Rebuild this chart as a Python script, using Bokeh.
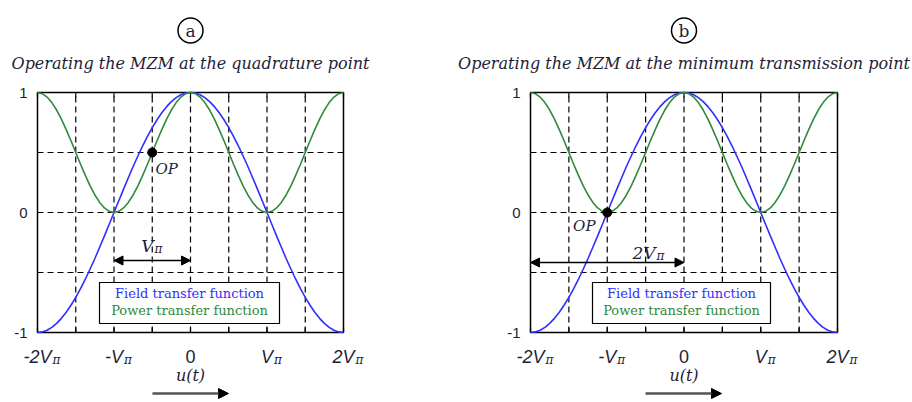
from bokeh.plotting import figure
from bokeh.layouts import row
from bokeh.models import Range1d, Arrow, NormalHead
from bokeh.core.properties import value
from bokeh.embed import file_html
from bokeh.resources import INLINE

# Bias voltage u(t) in units of V_pi
u_vpi = [-2.0, -1.9375, -1.875, -1.8125, -1.75, -1.6875, -1.625, -1.5625,
         -1.5, -1.4375, -1.375, -1.3125, -1.25, -1.1875, -1.125, -1.0625,
         -1.0, -0.9375, -0.875, -0.8125, -0.75, -0.6875, -0.625, -0.5625,
         -0.5, -0.4375, -0.375, -0.3125, -0.25, -0.1875, -0.125, -0.0625,
         0.0, 0.0625, 0.125, 0.1875, 0.25, 0.3125, 0.375, 0.4375,
         0.5, 0.5625, 0.625, 0.6875, 0.75, 0.8125, 0.875, 0.9375,
         1.0, 1.0625, 1.125, 1.1875, 1.25, 1.3125, 1.375, 1.4375,
         1.5, 1.5625, 1.625, 1.6875, 1.75, 1.8125, 1.875, 1.9375, 2.0]

# Field transfer function of the MZM
field_tf = [-1.000, -0.995, -0.981, -0.957, -0.924, -0.882, -0.831, -0.773,
            -0.707, -0.634, -0.556, -0.471, -0.383, -0.290, -0.195, -0.098,
            0.000, 0.098, 0.195, 0.290, 0.383, 0.471, 0.556, 0.634,
            0.707, 0.773, 0.831, 0.882, 0.924, 0.957, 0.981, 0.995,
            1.000, 0.995, 0.981, 0.957, 0.924, 0.882, 0.831, 0.773,
            0.707, 0.634, 0.556, 0.471, 0.383, 0.290, 0.195, 0.098,
            0.000, -0.098, -0.195, -0.290, -0.383, -0.471, -0.556, -0.634,
            -0.707, -0.773, -0.831, -0.882, -0.924, -0.957, -0.981, -0.995,
            -1.000]

# Power transfer function of the MZM
power_tf = [1.000, 0.990, 0.962, 0.916, 0.854, 0.778, 0.691, 0.598,
            0.500, 0.402, 0.309, 0.222, 0.146, 0.084, 0.038, 0.010,
            0.000, 0.010, 0.038, 0.084, 0.146, 0.222, 0.309, 0.402,
            0.500, 0.598, 0.691, 0.778, 0.854, 0.916, 0.962, 0.990,
            1.000, 0.990, 0.962, 0.916, 0.854, 0.778, 0.691, 0.598,
            0.500, 0.402, 0.309, 0.222, 0.146, 0.084, 0.038, 0.010,
            0.000, 0.010, 0.038, 0.084, 0.146, 0.222, 0.309, 0.402,
            0.500, 0.598, 0.691, 0.778, 0.854, 0.916, 0.962, 0.990,
            1.000]

grid_x = [-1.5, -1.0, -0.5, 0.0, 0.5, 1.0, 1.5]
grid_y = [-0.5, 0.0, 0.5]
tick_x = [-2.0, -1.5, -1.0, -0.5, 0.0, 0.5, 1.0, 1.5, 2.0]
x_label_ticks = [-2, -1, 0, 1, 2]
x_label_main = ["-2V", "-V", "0", "V", "2V"]
x_label_sub = ["π", "π", "", "π", "π"]
y_label_ticks = [-1, 0, 1]
y_label_text = ["-1", "0", "1"]

panel_letters = ["a", "b"]
panel_titles = ["Operating the MZM at the quadrature point",
                "Operating the MZM at the minimum transmission point"]
op_u = [-0.5, -1.0]
op_y = [0.5, 0.0]
span_start = [-1.0, -2.0]
span_end = [0.0, 0.0]
span_text = ["V", "2V"]
legend_lines = ["Field transfer function", "Power transfer function"]

FIELD_COLOR = "#2f2fff"
POWER_COLOR = "#2f8a3a"
TEXT_COLOR = "#1e1e38"
SERIF = "DejaVu Serif"
SANS = "Liberation Sans"

PANEL_W, PANEL_H = 456, 402
BOX_TOP, BOX_BOTTOM = 92, 332          # pixel rows of the plot box


def put_text(p, x, y, text, size, font=SERIF, style="normal", color=TEXT_COLOR,
             align="center", baseline="middle", x_offset=0):
    p.text(x=[x], y=[y], text=[text], text_font=value(font),
           text_font_size=f"{size}px", text_font_style=style,
           text_color=color, text_align=align, text_baseline=baseline,
           x_offset=x_offset)


def make_panel(i, box_left, box_right, op_label, span_y_px, span_label,
               legend_px):
    # scales: the plot box spans u = -2..2 and transfer = -1..1
    sx = (box_right - box_left) / 4.0
    sy = (BOX_BOTTOM - BOX_TOP) / 2.0

    def X(px):
        return (px - box_left) / sx - 2.0

    def Y(py):
        return 1.0 - (py - BOX_TOP) / sy

    p = figure(width=PANEL_W, height=PANEL_H,
               x_range=Range1d(X(0), X(PANEL_W)),
               y_range=Range1d(Y(PANEL_H), Y(0)),
               output_backend="svg", toolbar_location=None, min_border=0,
               min_border_left=0, min_border_right=0, min_border_top=0,
               min_border_bottom=0, x_axis_type=None, y_axis_type=None)
    p.outline_line_color = None
    p.xgrid.visible = False
    p.ygrid.visible = False

    # dashed grid inside the box
    dash = dict(line_color="black", line_dash="6 4", line_width=1.2)
    p.segment(x0=grid_x, y0=[-1] * len(grid_x), x1=grid_x,
              y1=[1] * len(grid_x), **dash)
    p.segment(x0=[-2] * len(grid_y), y0=grid_y, x1=[2] * len(grid_y),
              y1=grid_y, **dash)

    # inward tick marks on the top and bottom edges
    tick_len = 5 / sy
    p.segment(x0=tick_x, y0=[-1] * len(tick_x), x1=tick_x,
              y1=[-1 + tick_len] * len(tick_x), line_color="black",
              line_width=1.2)
    p.segment(x0=tick_x, y0=[1] * len(tick_x), x1=tick_x,
              y1=[1 - tick_len] * len(tick_x), line_color="black",
              line_width=1.2)

    # plot box
    p.quad(left=[-2], right=[2], top=[1], bottom=[-1], fill_color=None,
           line_color="black", line_width=1.5)

    # transfer functions and operating point
    p.line(u_vpi, field_tf, line_color=FIELD_COLOR, line_width=1.6)
    p.line(u_vpi, power_tf, line_color=POWER_COLOR, line_width=1.6)
    p.scatter([op_u[i]], [op_y[i]], size=9, color="black")
    put_text(p, X(op_label[0]), Y(op_label[1]), "OP", 15, style="italic",
             align=op_label[2])

    # span arrow and its V_pi label
    head_kw = dict(size=9, fill_color="black", line_color="black")
    ay = Y(span_y_px)
    p.add_layout(Arrow(x_start=span_start[i], y_start=ay,
                       x_end=span_end[i], y_end=ay,
                       line_color="black", line_width=1.5,
                       start=NormalHead(**head_kw), end=NormalHead(**head_kw)))
    lx, ly = X(span_label[0]), Y(span_label[1])
    put_text(p, lx, ly, span_text[i], 17, style="italic", align="right",
             baseline="alphabetic")
    put_text(p, lx, Y(span_label[1] + 3), "π", 12, style="italic",
             align="left", baseline="alphabetic", x_offset=1)

    # legend box with coloured entries
    l, r, t, b = legend_px
    p.quad(left=[X(l)], right=[X(r)], top=[Y(t)], bottom=[Y(b)],
           fill_color="white", line_color="black", line_width=1.2)
    cx = X((l + r) / 2)
    put_text(p, cx, Y(t + 11), legend_lines[0], 13, color=FIELD_COLOR)
    put_text(p, cx, Y(t + 28), legend_lines[1], 13, color=POWER_COLOR)

    # y tick labels
    for t, s in zip(y_label_ticks, y_label_text):
        put_text(p, -2, t, s, 15, font=SANS, align="right", x_offset=-10)

    # x tick labels with subscript pi
    sub_off = [15, 10, 0, 7, 12]
    for t, m, s, off in zip(x_label_ticks, x_label_main, x_label_sub, sub_off):
        put_text(p, t, Y(BOX_BOTTOM + 24), m, 18, font=SANS,
                 style="italic" if s else "normal", baseline="alphabetic")
        if s:
            put_text(p, t, Y(BOX_BOTTOM + 27), s, 12, style="italic",
                     align="left", baseline="alphabetic", x_offset=off)

    # axis variable and direction arrow
    put_text(p, 0, Y(375), "u(t)", 16, style="italic")
    p.add_layout(Arrow(x_start=X(box_left + 115), y_start=Y(393),
                       x_end=X(box_left + 191), y_end=Y(393),
                       line_color="#555555", line_width=2.5, start=None,
                       end=NormalHead(size=10, fill_color="black",
                                      line_color="black")))

    # heading: circled letter and italic title
    p.scatter([0], [Y(30)], size=25, marker="circle", fill_color=None,
              line_color="black", line_width=1.5)
    put_text(p, 0, Y(30), panel_letters[i], 17)
    put_text(p, 0, Y(63), panel_titles[i], 16, style="italic")
    return p


left = make_panel(0, 37, 343, (155, 168, "left"), 260, (153, 245),
                  (99, 279, 282, 323))
right = make_panel(1, 74, 381, (139, 225, "right"), 262, (199, 252),
                   (136, 314, 282, 323))

layout = row(left, right, spacing=0)
open("out.html", "w").write(file_html(layout, INLINE))
